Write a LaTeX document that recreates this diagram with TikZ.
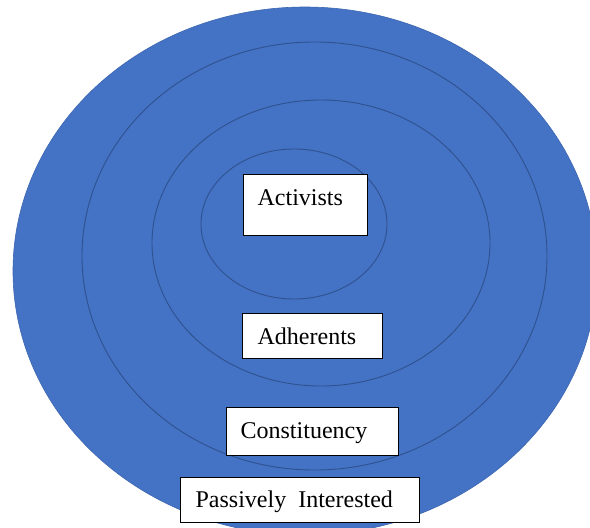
\documentclass[tikz,border=0pt]{standalone}
\usepackage{fontspec}
\setmainfont{Liberation Serif}
\definecolor{ringfill}{HTML}{4472C4}
\definecolor{ringline}{HTML}{2F528F}
\tikzset{
  ring/.style={draw=ringline, line width=0.9pt},
  outerring/.style={fill=ringfill, draw=ringfill!90!black, line width=0.6pt},
  labelbox/.style={draw=black, fill=white, line width=1.3pt, anchor=north west,
    inner ysep=0pt, align=left, font=\fontsize{24}{28}\selectfont},
}
\begin{document}
\begin{tikzpicture}[x=1pt, y=-1pt]
\useasboundingbox (0,0) rectangle (590,528);
\clip (0,0) rectangle (590,528);
\fill[white] (0,0) rectangle (590,528);
% rings
\path[outerring] (305,271) ellipse [x radius=292pt, y radius=264pt];
\path[ring] (314.5,256) ellipse [x radius=232.5pt, y radius=214pt];
\path[ring] (321,243) ellipse [x radius=169pt, y radius=143pt];
\path[ring] (294,224) ellipse [x radius=93pt, y radius=75pt];
% label boxes
\node[labelbox, inner xsep=14pt, text width=96pt, text height=31pt, text depth=30pt]
  (act) at (243,174) {Activists};
\node[labelbox, inner xsep=15pt, text width=110pt, text height=31pt, text depth=14pt]
  (adh) at (242,313) {Adherents};
\node[labelbox, inner xsep=14pt, text width=144pt, text height=31pt, text depth=17pt]
  (con) at (226,407) {Constituency};
\node[labelbox, inner xsep=15pt, text width=209pt, text height=30pt, text depth=15pt]
  (pas) at (180,477) {Passively\hspace{0.5em}Interested};
\end{tikzpicture}
\end{document}
